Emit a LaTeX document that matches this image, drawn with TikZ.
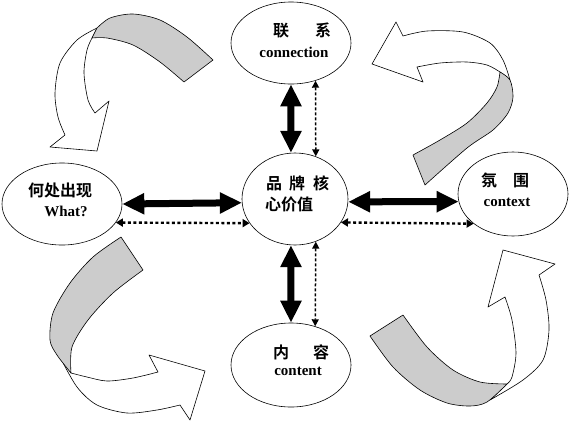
\documentclass[tikz,border=0pt]{standalone}
\usepackage{fontspec}
\setmainfont{Liberation Serif}
\newfontfamily\cjk{Noto Sans CJK SC}[BoldFont={* Bold}]
\usetikzlibrary{arrows.meta,shapes.geometric}
\tikzset{
  oval/.style={ellipse,draw,line width=0.6pt,fill=white,inner sep=0pt},
  zh/.style={font=\cjk\bfseries\fontsize{16}{18}\selectfont,inner sep=0pt},
  en/.style={font=\bfseries\fontsize{15}{16}\selectfont,inner sep=0pt},
  bigarrow/.style={line width=7pt,{Triangle[width=20pt,length=22pt]}-{Triangle[width=20pt,length=22pt]}},
  dotarrowh/.style={line width=2.4pt,dash pattern=on 3pt off 2.5pt,{Triangle[width=8pt,length=7pt]}-{Triangle[width=8pt,length=7pt]}},
  dotarrowv/.style={line width=1.5pt,dash pattern=on 3pt off 2pt,{Triangle[width=7pt,length=7pt]}-{Triangle[width=7pt,length=7pt]}},
  band/.style={draw,line width=0.6pt,fill=black!20,line join=round},
  whitearrow/.style={draw,line width=0.6pt,fill=white,line join=round}
}
\begin{document}
\begin{tikzpicture}[x=1pt,y=-1pt]
\useasboundingbox (0,0) rectangle (570,424);

% ---- curved arrows ----
% top-left
\path[whitearrow] plot[smooth] coordinates {(97,28) (77,40) (60,63) (55,93) (58,117) (65,135)}
  -- (50,147) -- (97,151) -- (109,101) -- (95,113)
  -- plot[smooth] coordinates {(95,113) (88,100) (84,73) (87,50) (92,38)} -- cycle;
\path[band] plot[smooth] coordinates {(97,28) (110,18) (133,14) (160,20) (187,37) (213,60)}
  -- (184,82)
  -- plot[smooth] coordinates {(184,82) (160,62) (133,45) (107,38) (92,38)} -- cycle;

% top-right
\path[whitearrow] plot[smooth] coordinates {(510,80) (503,60) (490,43) (463,32) (427,31) (403,36)}
  -- (396,22) -- (372,64) -- (423,82) -- (417,67)
  -- plot[smooth] coordinates {(417,67) (440,63) (467,62) (487,65) (500,72)} -- cycle;
\path[band] plot[smooth] coordinates {(500,72) (510,80) (513,97) (508,113) (493,130) (467,148) (425,185)}
  -- (413,155)
  -- plot[smooth] coordinates {(413,155) (440,140) (467,123) (487,103) (497,87) (500,72)} -- cycle;

% bottom-left
\path[whitearrow] plot[smooth] coordinates {(60,357) (77,387) (97,405) (127,413) (157,410) (180,405)}
  -- (190,420) -- (205,371) -- (149,355) -- (158,372)
  -- plot[smooth] coordinates {(158,372) (133,378) (107,381) (87,377) (71,373)} -- cycle;
\path[band] plot[smooth] coordinates {(121,237) (93,257) (70,283) (53,313) (50,340) (57,355) (71,373)}
  -- plot[smooth] coordinates {(71,373) (72,347) (88,320) (113,293) (143,270)} -- cycle;

% bottom-right
\path[whitearrow] plot[smooth] coordinates {(490,400) (523,380) (543,360) (549,330) (546,300) (539,275)}
  -- (555,264) -- (503,250) -- (488,307) -- (505,297)
  -- plot[smooth] coordinates {(505,297) (512,320) (516,353) (512,377) (507,384)} -- cycle;
\path[band] plot[smooth] coordinates {(370,336) (393,367) (420,390) (447,403) (470,406) (487,402) (507,384)}
  -- plot[smooth] coordinates {(507,384) (480,382) (453,370) (427,347) (403,315)} -- cycle;

% ---- ellipses ----
\node[oval,minimum width=120pt,minimum height=82pt] (T) at (291,43) {};
\node[oval,minimum width=106pt,minimum height=92pt] (C) at (295,199) {};
\node[oval,minimum width=120pt,minimum height=84pt] (B) at (291,365) {};
\node[oval,minimum width=120pt,minimum height=82pt] (L) at (62,204) {};
\node[oval,minimum width=110pt,minimum height=84pt] (R) at (513,194) {};

% ---- texts ----
\node[zh] (t1) at (302,30) {联\hspace{26pt}系};
\node[en] (t2) at (294,52) {connection};
\node[zh,anchor=west] (c1) at (266,183.5) {品\hspace{7pt}牌\hspace{8pt}核};
\node[zh,anchor=west] (c2) at (265,204.5) {心价值};
\node[zh] (b1) at (301,352) {内\hspace{24pt}容};
\node[en] (b2) at (298,371) {content};
\node[zh] (l1) at (60,190.5) {何处出现};
\node[en,anchor=base] (l2) at (66,216) {What?};
\node[zh] (r1) at (505,180) {氛\hspace{16pt}围};
\node[en] (r2) at (507,202) {context};

% ---- connectors ----
\draw[bigarrow] (T.south) -- (C.95);
\draw[dotarrowv] (T.-57.45) -- (C.64.85);
\draw[bigarrow] (C.-95) -- (B.north);
\draw[dotarrowv] (C.-64.85) -- (B.58.06);
\draw[bigarrow] (L.0.955) -- (C.184.33);
\draw[dotarrowh] (L.-19.65) -- (C.-152.03);
\draw[bigarrow] (C.-3.25) -- (R.188.43);
\draw[dotarrowh] (C.-27.97) -- (R.-143.92);
\end{tikzpicture}
\end{document}
